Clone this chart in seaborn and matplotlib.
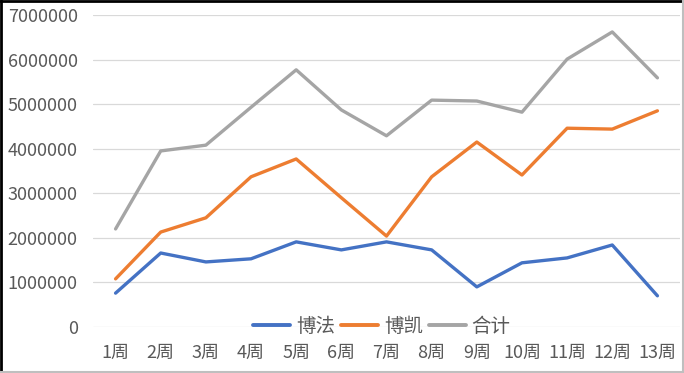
import pandas as pd
import matplotlib
matplotlib.use("Agg")
import matplotlib.pyplot as plt
from matplotlib.lines import Line2D
import seaborn as sns

weeks = ["1周", "2周", "3周", "4周", "5周", "6周", "7周", "8周", "9周", "10周", "11周", "12周", "13周"]
bofa = [760000, 1660000, 1460000, 1530000, 1910000, 1730000, 1910000, 1730000, 900000, 1440000, 1550000, 1840000, 700000]
bokai = [1080000, 2130000, 2450000, 3370000, 3770000, 2900000, 2040000, 3370000, 4150000, 3410000, 4460000, 4440000, 4850000]
total = [2200000, 3950000, 4080000, 4930000, 5770000, 4870000, 4290000, 5090000, 5070000, 4820000, 6010000, 6620000, 5590000]
series_names = ["博法", "博凯", "合计"]
colors = ["#4472C4", "#ED7D31", "#A5A5A5"]
y_ticks = [0, 1000000, 2000000, 3000000, 4000000, 5000000, 6000000, 7000000]


def main():
    df = pd.DataFrame({"week": weeks, "博法": bofa, "博凯": bokai, "合计": total})
    df["pos"] = range(len(weeks))
    long_df = df.melt(id_vars=["week", "pos"], value_vars=series_names,
                      var_name="series", value_name="value")

    sns.set_style("white")
    plt.rcParams["font.family"] = ["Noto Sans CJK SC", "DejaVu Sans"]

    fig = plt.figure(figsize=(6.84, 3.73), dpi=100)
    ax = fig.add_axes([93 / 684, 1 - 327 / 373, (680 - 93) / 684, (327 - 15) / 373])

    sns.lineplot(data=long_df, x="pos", y="value", hue="series",
                 hue_order=series_names, palette=colors, linewidth=2.4,
                 ax=ax, legend=False)

    ax.set_xlim(-0.5, len(weeks) - 0.5)
    ax.set_ylim(0, 7000000)
    ax.set_xticks(range(len(weeks)))
    ax.set_xticklabels(weeks)
    ax.set_yticks(y_ticks)
    ax.set_yticklabels([str(v) for v in y_ticks])
    ax.set_xlabel("")
    ax.set_ylabel("")
    ax.tick_params(axis="x", length=0, pad=12, labelsize=13, labelcolor="#595959")
    ax.tick_params(axis="y", length=0, pad=11, labelsize=13, labelcolor="#595959")
    ax.grid(axis="y", color="#D9D9D9", linewidth=0.9)
    ax.set_axisbelow(True)
    for s in ax.spines.values():
        s.set_visible(False)

    handles = [Line2D([0], [0], color=c, linewidth=2.8) for c in colors]
    fig.legend(handles, series_names, loc="center", ncol=3,
               bbox_to_anchor=(382 / 684, 1 - 326 / 373), frameon=False,
               fontsize=14, handlelength=1.9, handletextpad=0.3,
               columnspacing=0.3, labelcolor="#595959")

    # image frame
    fig.add_artist(Line2D([0, 1], [0.998, 0.998], color="black", linewidth=2, transform=fig.transFigure))
    fig.add_artist(Line2D([0.002, 0.002], [0, 1], color="black", linewidth=2, transform=fig.transFigure))
    fig.add_artist(Line2D([0, 1], [0.002, 0.002], color="#BFBFBF", linewidth=1.5, transform=fig.transFigure))
    fig.add_artist(Line2D([0.998, 0.998], [0, 1], color="#BFBFBF", linewidth=1.5, transform=fig.transFigure))

    fig.savefig("out.png", dpi=100)


if __name__ == "__main__":
    main()
